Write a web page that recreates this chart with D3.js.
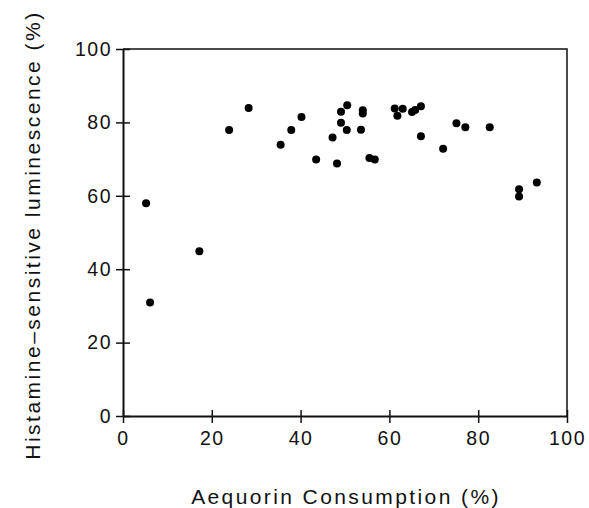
<!DOCTYPE html>
<html>
<head>
<meta charset="utf-8">
<script src="https://cdn.jsdelivr.net/npm/d3@7"></script>
<style>
  html, body { margin: 0; padding: 0; background: #fff; }
  text { font-family: "Liberation Sans", Arial, sans-serif; fill: #111; }
</style>
</head>
<body>
<div id="chart"></div>
<script>
// Aequorin consumption (%) vs histamine-sensitive luminescence (%)
const consumption = [5.2, 6.1, 17.2, 23.9, 28.3, 35.5, 37.9, 40.2, 43.5, 47.2, 48.2, 49.1,
    49.1, 50.5, 50.4, 53.6, 54.0, 54.0, 55.5, 56.7, 61.2, 61.8, 63.0, 65.1, 65.8, 67.1,
    67.1, 72.1, 75.1, 77.1, 82.6, 89.2, 89.2, 93.2];
const luminescence = [58.0, 30.9, 44.9, 77.9, 83.9, 73.9, 77.9, 81.5, 69.9, 75.9, 68.8, 82.9,
    79.9, 84.7, 77.9, 78.0, 83.3, 82.4, 70.3, 69.9, 83.8, 81.8, 83.7, 82.8, 83.4, 84.4,
    76.2, 72.8, 79.8, 78.7, 78.7, 61.8, 59.8, 63.6];
const xTicks = [0, 20, 40, 60, 80, 100];
const yTicks = [0, 20, 40, 60, 80, 100];

const width = 589, height = 508;
const margin = { top: 49, right: 22, bottom: 92, left: 123 };

const svg = d3.select('#chart').append('svg')
    .attr('width', width)
    .attr('height', height);

const x = d3.scaleLinear().domain([0, 100]).range([margin.left, width - margin.right]);
const y = d3.scaleLinear().domain([0, 100]).range([height - margin.bottom, margin.top]);

// frame (top and right)
svg.append('path')
    .attr('d', `M${x(0)},${y(100)}H${x(100)}V${y(0)}`)
    .attr('fill', 'none')
    .attr('stroke', '#111')
    .attr('stroke-width', 1.5);

// x axis, ticks crossing the line
const xAxis = svg.append('g')
    .attr('transform', `translate(0,${y(0)})`)
    .call(d3.axisBottom(x).tickValues(xTicks).tickSize(7).tickPadding(8).tickSizeOuter(0));
xAxis.selectAll('.tick line').attr('y1', -6).attr('stroke-width', 1.5);
xAxis.select('.domain').attr('stroke-width', 2);
xAxis.selectAll('text')
    .style('font-size', '19.5px')
    .style('letter-spacing', '1.5px');

// y axis
const yAxis = svg.append('g')
    .attr('transform', `translate(${x(0)},0)`)
    .call(d3.axisLeft(y).tickValues(yTicks).tickSize(7).tickPadding(4).tickSizeOuter(0));
yAxis.selectAll('.tick line').attr('x1', 7).attr('x2', -7).attr('stroke-width', 1.5);
yAxis.select('.domain').attr('stroke-width', 2);
yAxis.selectAll('text')
    .style('font-size', '19.5px')
    .style('letter-spacing', '1.5px');

svg.selectAll('.domain, .tick line').attr('stroke', '#111');

// points
svg.append('g')
    .selectAll('circle')
    .data(consumption.map((c, i) => [c, luminescence[i]]))
    .enter().append('circle')
    .attr('cx', d => x(d[0]))
    .attr('cy', d => y(d[1]))
    .attr('r', 4)
    .attr('fill', '#000');

// axis titles
svg.append('text')
    .attr('x', 346)
    .attr('y', 504)
    .attr('text-anchor', 'middle')
    .style('font-size', '21px')
    .style('letter-spacing', '2.4px')
    .text('Aequorin Consumption (%)');

svg.append('text')
    .attr('transform', 'translate(40,235) rotate(-90)')
    .attr('text-anchor', 'middle')
    .style('font-size', '21px')
    .style('letter-spacing', '2.5px')
    .text('Histamine–sensitive luminescence (%)');
</script>
</body>
</html>
